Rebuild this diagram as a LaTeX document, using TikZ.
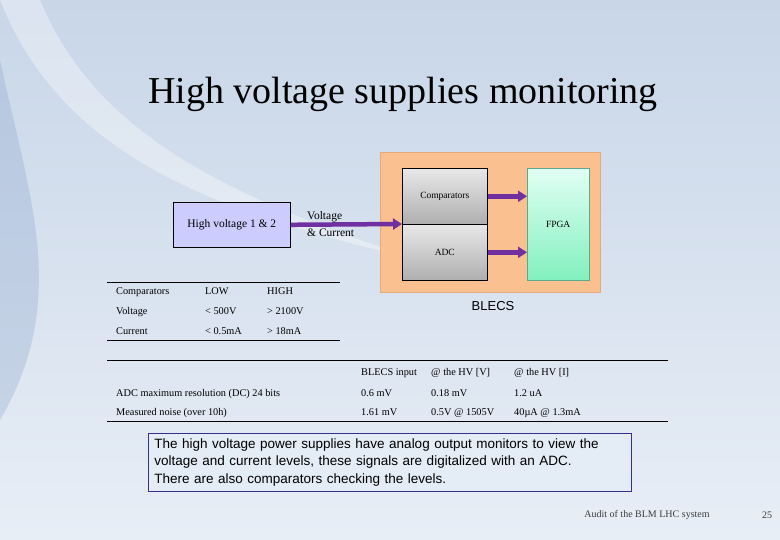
\documentclass[tikz,border=0pt]{standalone}
\usepackage{fontspec}
\usetikzlibrary{arrows.meta}
\setmainfont{Liberation Serif}
\newfontfamily\arialf{Liberation Sans}
\definecolor{bgtop}{RGB}{200,214,232}
\definecolor{bgbot}{RGB}{232,238,246}
\definecolor{swoosh}{RGB}{120,150,195}
\definecolor{purp}{RGB}{112,48,160}
\definecolor{orng}{RGB}{250,192,144}
\definecolor{orngd}{RGB}{230,170,120}
\definecolor{gtop}{RGB}{232,232,232}
\definecolor{gbot}{RGB}{175,175,175}
\definecolor{fdraw}{RGB}{90,170,140}
\definecolor{ftop}{RGB}{225,255,245}
\definecolor{fbot}{RGB}{130,240,190}
\definecolor{hvfill}{RGB}{204,204,255}
\definecolor{tbdraw}{RGB}{50,50,140}
\definecolor{tbfill}{RGB}{228,236,246}
\definecolor{foottxt}{RGB}{60,60,60}
\begin{document}
\begin{tikzpicture}[x=1pt,y=-1pt,
  tbl/.style={anchor=base west,font=\fontsize{10.3}{11}\selectfont,inner sep=0},
  arr/.style={draw=purp,line width=4.5pt,-{Triangle[length=9pt,width=11pt]}},
  blk/.style={draw=black,line width=0.6pt},
  gblk/.style={blk,top color=gtop,bottom color=gbot,minimum width=85,minimum height=56,anchor=north west,font=\fontsize{9.5}{10}\selectfont}]
\useasboundingbox (0,0) rectangle (780,540);
\shade[top color=bgtop,bottom color=bgbot] (0,0) rectangle (780,540);
\fill[white,opacity=0.35] (0,0) .. controls (60,150) and (200,210) .. (420,260) .. controls (200,190) and (90,120) .. (40,0) -- cycle;
\fill[swoosh,opacity=0.25] (0,60) .. controls (30,200) and (70,300) .. (0,420) -- cycle;
\node[font=\fontsize{38}{40}\selectfont] (title) at (403,94) {High voltage supplies monitoring};
% diagram
\node[fill=orng,draw=orngd,minimum width=220,minimum height=140,anchor=north west] (blecs) at (380,152) {};
\node[gblk] (comp) at (402,168) {Comparators};
\node[gblk] (adc) at (402,224) {ADC};
\node[draw=fdraw,top color=ftop,bottom color=fbot,minimum width=62,minimum height=112,anchor=north west,font=\fontsize{9.5}{10}\selectfont] (fpga) at (527,168) {FPGA};
\node[blk,fill=hvfill,minimum width=117,minimum height=45,anchor=north west,font=\fontsize{11.5}{12}\selectfont] (hv) at (173,202) {High voltage 1 \& 2};
\node[font=\arialf\fontsize{13}{14}\selectfont] (blecslbl) at (493,306) {BLECS};
\coordinate (cin) at (402,224);
\draw[arr] (hv.east) -- (cin);
\node[align=left,anchor=west,font=\fontsize{11.5}{17}\selectfont,inner sep=0] (vc) at (307,224) {Voltage\\\& Current};
\draw[arr] (comp.east) -- (comp.east -| fpga.west);
\draw[arr] (adc.east) -- (adc.east -| fpga.west);
% table 1
\draw[line width=0.6pt] (107,282) coordinate (t1a) -- (340,282) coordinate (t1b);
\draw[line width=0.6pt] (107,340) coordinate (t1c) -- (340,340) coordinate (t1d);
\node[tbl] (a1) at (116,295) {Comparators};\node[tbl] (a2) at (205,295) {LOW};\node[tbl] (a3) at (267,295) {HIGH};
\node[tbl] (b1) at (116,315) {Voltage};\node[tbl] (b2) at (205,315) {< 500V};\node[tbl] (b3) at (267,315) {> 2100V};
\node[tbl] (c1) at (116,335) {Current};\node[tbl] (c2) at (205,335) {< 0.5mA};\node[tbl] (c3) at (267,335) {> 18mA};
% table 2
\draw[line width=0.6pt] (107,360) coordinate (t2a) -- (668,360) coordinate (t2b);
\draw[line width=0.6pt] (107,421) coordinate (t2c) -- (668,421) coordinate (t2d);
\node[tbl] (h1) at (361,376) {BLECS input};\node[tbl] (h2) at (431,376) {@ the HV [V]};\node[tbl] (h3) at (514,376) {@ the HV [I]};
\node[tbl] (r1) at (116,396) {ADC maximum resolution (DC) 24 bits};\node[tbl] (r2) at (361,396) {0.6 mV};\node[tbl] (r3) at (431,396) {0.18 mV};\node[tbl] (r4) at (514,396) {1.2 uA};
\node[tbl] (s1) at (116,415) {Measured noise (over 10h)};\node[tbl] (s2) at (361,415) {1.61 mV};\node[tbl] (s3) at (431,415) {0.5V @ 1505V};\node[tbl] (s4) at (514,415) {40µA @ 1.3mA};
% text box
\node[draw=tbdraw,line width=0.8pt,fill=tbfill,minimum height=58,anchor=north west,text width=471,align=left,inner xsep=6pt,inner ysep=2pt,font=\arialf\fontsize{13.5}{17.5}\selectfont] (txt) at (148,433) {The high voltage power supplies have analog output monitors to view the\\voltage and current levels, these signals are digitalized with an ADC.\\There are also comparators checking the levels.};
\node[font=\fontsize{10}{11}\selectfont,text=foottxt] (foot) at (647,515) {Audit of the BLM LHC system};
\node[font=\fontsize{10}{11}\selectfont,text=foottxt] (pg) at (767,515) {25};
\end{tikzpicture}
\end{document}
